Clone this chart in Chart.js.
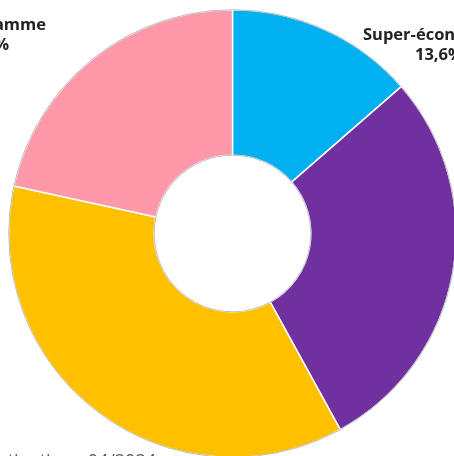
<!DOCTYPE html>
<html>
<head>
<meta charset="utf-8">
<script src="https://cdn.jsdelivr.net/npm/chart.js@4"></script>
<style>
html,body{margin:0;padding:0;background:#fff;overflow:hidden;width:454px;height:456px;}
#wrap{position:absolute;left:0;top:0;width:470px;height:470px;}
</style>
</head>
<body>
<div id="wrap"><canvas id="c" width="470" height="470"></canvas></div>
<script>
const categories = ["Super-économique", "Économique", "Milieu de gamme", "Haut de gamme"];
const values = [13.6, 28.4, 36.4, 21.6];
const colors = ["#00B0F0", "#7030A0", "#FFC000", "#FF99AA"];
const sourceText = "Source : Observatoire de la destination - 04/2024";

const overlay = {
  id: 'overlay',
  afterDatasetsDraw(chart) {
    const ctx = chart.ctx;
    const arc = chart.getDatasetMeta(0).data[0];
    const cx = arc.x, cy = arc.y;
    ctx.save();
    ctx.strokeStyle = '#BDBDBD';
    ctx.lineWidth = 1;
    ctx.beginPath();
    ctx.arc(cx, cy, arc.outerRadius, 0, Math.PI * 2);
    ctx.stroke();
    ctx.beginPath();
    ctx.arc(cx, cy, arc.innerRadius, 0, Math.PI * 2);
    ctx.stroke();
    // labels
    ctx.fillStyle = '#222';
    ctx.font = 'bold 16.5px "Open Sans", sans-serif';
    ctx.textBaseline = 'alphabetic';
    ctx.textAlign = 'left';
    ctx.fillText(categories[0], 363, 40);
    ctx.fillText(values[0].toFixed(1).replace('.', ',') + '%', 415, 60);
    ctx.textAlign = 'right';
    ctx.fillText(categories[3], 46, 30);
    ctx.fillText(values[3].toFixed(1).replace('.', ',') + '%', 9, 50);
    ctx.fillStyle = '#555';
    ctx.font = '18px "Open Sans", sans-serif';
    ctx.fillText(sourceText, 156, 467);
    ctx.restore();
  }
};

new Chart(document.getElementById('c'), {
  type: 'doughnut',
  data: {
    labels: categories,
    datasets: [{
      data: values,
      backgroundColor: colors,
      borderColor: '#FFFFFF',
      borderWidth: 1.5
    }]
  },
  options: {
    responsive: false,
    animation: false,
    cutout: '35%',
    layout: { padding: { left: 8, top: 9, right: 13, bottom: 12 } },
    plugins: { legend: { display: false }, tooltip: { enabled: false } }
  },
  plugins: [overlay]
});
</script>
</body>
</html>
